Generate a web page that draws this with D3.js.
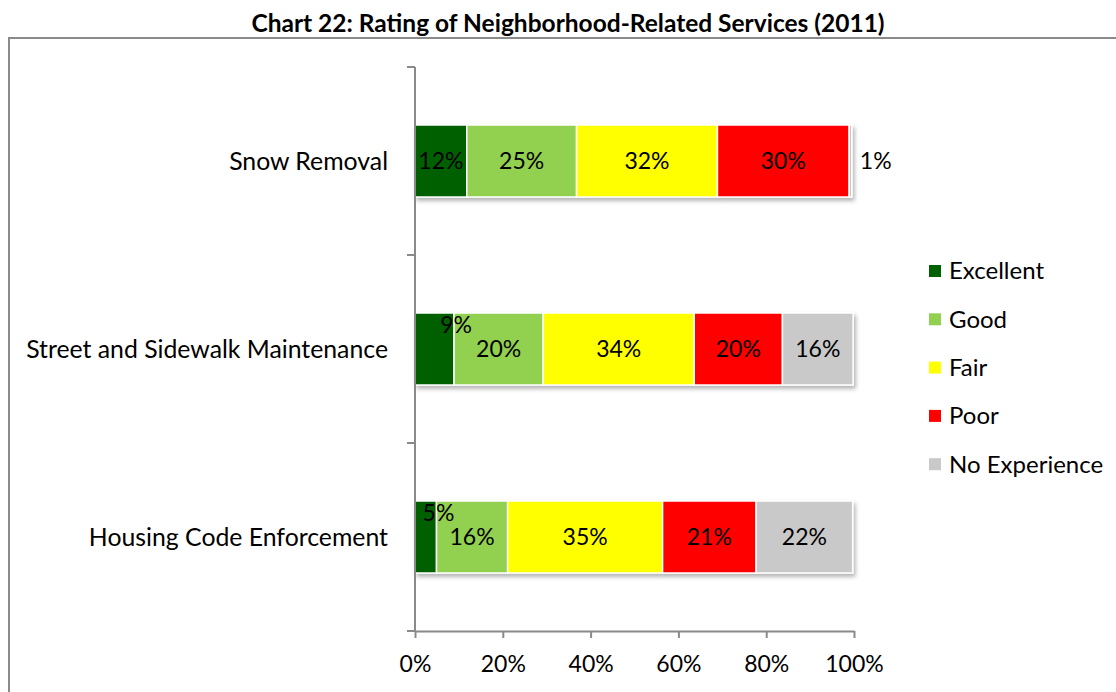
<!DOCTYPE html>
<html>
<head>
<meta charset="utf-8">
<script src="https://cdn.jsdelivr.net/npm/d3@7"></script>
<style>
  body { margin: 0; background: #fff; }
  svg text { font-family: Lato, "Open Sans", sans-serif; fill: #000; }
</style>
</head>
<body>
<div id="chart"></div>
<script>
// categories (top to bottom) and rating series
var categories = ["Snow Removal", "Street and Sidewalk Maintenance", "Housing Code Enforcement"];
var seriesNames = ["Excellent", "Good", "Fair", "Poor", "No Experience"];
var seriesColors = ["#006100", "#92D050", "#FFFF00", "#FF0000", "#C9C9C9"];

// percentages per category, same order as seriesNames
var excellent    = [11.8, 8.9, 4.9];
var good         = [25.0, 20.3, 16.2];
var fair         = [32.1, 34.4, 35.3];
var poor         = [30.0, 20.1, 21.3];
var noExperience = [0.6, 16.1, 22.0];

var xTicks = [0, 20, 40, 60, 80, 100];
var title = "Chart 22: Rating of Neighborhood-Related Services (2011)";

var W = 1116, H = 692;
var margin = {top: 67, left: 415, right: 262, bottom: 61};
var width = W - margin.left - margin.right,   // 439
    height = H - margin.top - margin.bottom;  // 564

var values = [excellent, good, fair, poor, noExperience];

// build rows for d3.stack
var rows = categories.map(function(c, i) {
  var r = {category: c};
  seriesNames.forEach(function(s, j) { r[s] = values[j][i]; });
  return r;
});
var stacked = d3.stack().keys(seriesNames)(rows);

var svg = d3.select("#chart").append("svg")
    .attr("width", W)
    .attr("height", H);

// drop shadow for bars
var defs = svg.append("defs");
var f = defs.append("filter").attr("id", "shadow")
    .attr("x", "-5%").attr("y", "-10%").attr("width", "115%").attr("height", "140%");
f.append("feDropShadow")
    .attr("dx", 2).attr("dy", 3).attr("stdDeviation", 2)
    .attr("flood-color", "#000").attr("flood-opacity", 0.3);

// outer frame (runs off the picture on right and bottom)
svg.append("rect")
    .attr("x", 9).attr("y", 38)
    .attr("width", W + 20).attr("height", H + 20)
    .attr("fill", "none")
    .attr("stroke", "#8a8a8a")
    .attr("stroke-width", 2);

// title
svg.append("text")
    .attr("x", 568).attr("y", 32)
    .attr("text-anchor", "middle")
    .style("font-weight", "bold")
    .style("font-size", "24.5px")
    .text(title);

var g = svg.append("g")
    .attr("transform", "translate(" + margin.left + "," + margin.top + ")");

var x = d3.scaleLinear().domain([0, 100]).range([0, width]);
var p = 0.617;
var y = d3.scaleBand().domain(categories).range([0, height])
    .paddingInner(p).paddingOuter(p / 2);

// bars, in one group that carries the shadow
var barsGroup = g.append("g").attr("filter", "url(#shadow)");
var layers = barsGroup.selectAll(".layer")
    .data(stacked)
  .enter().append("g")
    .attr("class", "layer")
    .attr("fill", function(d, i) { return seriesColors[i]; });

layers.selectAll("rect")
    .data(function(d) { return d; })
  .enter().append("rect")
    .attr("x", function(d) { return x(d[0]); })
    .attr("y", function(d) { return y(d.data.category); })
    .attr("width", function(d) { return x(d[1]) - x(d[0]); })
    .attr("height", y.bandwidth())
    .attr("stroke", "#fff")
    .attr("stroke-width", 1.5);

// data labels
var fmt = function(v) { return Math.round(v) + "%"; };
stacked.forEach(function(layer, si) {
  layer.forEach(function(d) {
    var v = d[1] - d[0];
    var yc = y(d.data.category) + y.bandwidth() / 2;
    var lx = x((d[0] + d[1]) / 2), ly = yc, anchor = "middle";
    if (v < 3) {
      // tiny slice: label outside the bar end
      lx = x(d[1]) + 8; anchor = "start";
    } else if (v < 10) {
      // narrow slice: label raised near the top of the bar
      lx = x(d[1]) + 2; ly = y(d.data.category) + 12;
    }
    g.append("text")
        .attr("x", lx).attr("y", ly)
        .attr("dy", "0.35em")
        .attr("text-anchor", anchor)
        .style("font-size", "23px")
        .text(fmt(v));
  });
});

// x axis
var xAxis = g.append("g")
    .attr("transform", "translate(0," + height + ")")
    .call(d3.axisBottom(x).tickValues(xTicks)
      .tickFormat(function(d) { return d + "%"; })
      .tickSize(7).tickPadding(18).tickSizeOuter(0));
xAxis.select(".domain").attr("stroke", "#8a8a8a").attr("stroke-width", 2);
xAxis.selectAll(".tick line").attr("stroke", "#8a8a8a").attr("stroke-width", 2);
xAxis.selectAll("text").style("font-size", "23px").attr("fill", "#000");

// y axis line with ticks at band edges
g.append("line")
    .attr("x1", 0).attr("x2", 0).attr("y1", 0).attr("y2", height)
    .attr("stroke", "#8a8a8a").attr("stroke-width", 2);
d3.range(categories.length + 1).forEach(function(i) {
  var ty = i * y.step();
  g.append("line")
      .attr("x1", -8).attr("x2", 0).attr("y1", ty).attr("y2", ty)
      .attr("stroke", "#8a8a8a").attr("stroke-width", 2);
});

// category labels
g.selectAll(".cat")
    .data(categories)
  .enter().append("text")
    .attr("class", "cat")
    .attr("x", -27)
    .attr("y", function(d) { return y(d) + y.bandwidth() / 2; })
    .attr("dy", "0.35em")
    .attr("text-anchor", "end")
    .style("font-size", "24.8px")
    .text(function(d) { return d; });

// legend
var legend = svg.append("g").attr("transform", "translate(929,271)");
seriesNames.forEach(function(s, i) {
  var row = legend.append("g").attr("transform", "translate(0," + (i * 48.3) + ")");
  row.append("rect")
      .attr("x", 0).attr("y", -6)
      .attr("width", 12).attr("height", 12)
      .attr("fill", seriesColors[i]);
  row.append("text")
      .attr("x", 20).attr("y", 0)
      .attr("dy", "0.35em")
      .style("font-size", "24px")
      .text(s);
});
</script>
</body>
</html>
